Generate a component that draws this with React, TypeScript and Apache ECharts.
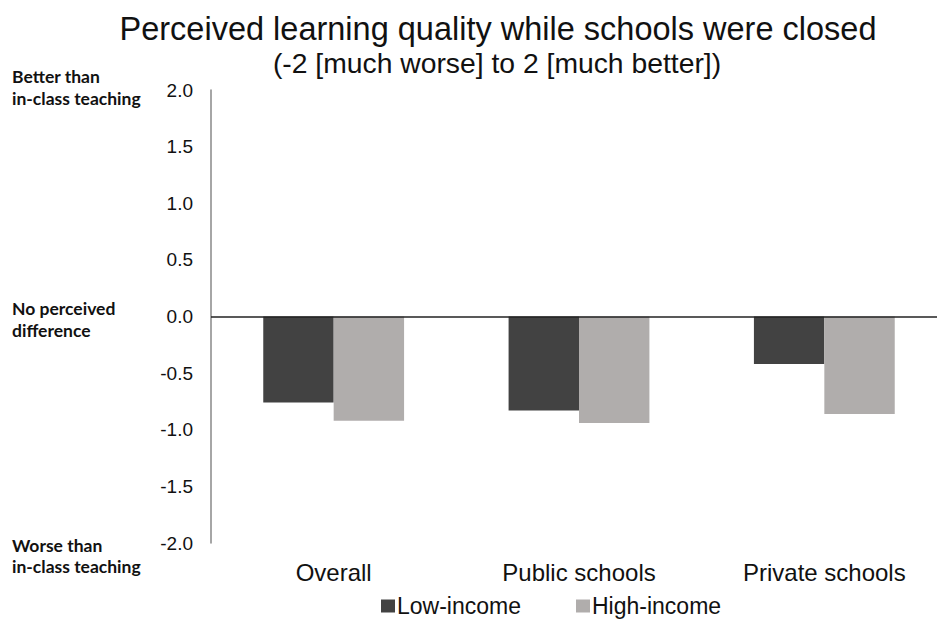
import React, { useEffect, useRef } from "react";
import * as echarts from "echarts";

// Mean perceived learning quality while schools were closed (-2 .. 2)
const categories = ["Overall", "Public schools", "Private schools"];
const seriesNames = ["Low-income", "High-income"];
const lowIncome = [-0.76, -0.83, -0.42];
const highIncome = [-0.92, -0.94, -0.86];
const yTicks = [-2, -1.5, -1, -0.5, 0, 0.5, 1, 1.5, 2];

const LOW_COLOR = "#424242";
const HIGH_COLOR = "#b0adac";
const ARIAL = "'Liberation Sans', Arial, sans-serif";
const SIDE = "Lato, 'Open Sans', sans-serif";

// Chart canvas is slightly wider than the page so the last category is cut at the edge.
const CHART_W = 947;
const CHART_H = 622;

export default function App() {
  const ref = useRef<HTMLDivElement>(null);

  useEffect(() => {
    if (!ref.current) return;
    const chart = echarts.init(ref.current, null, { renderer: "svg" });

    const sideLine = (text: string, y: number) => ({
      type: "text",
      x: 12,
      y,
      style: {
        text,
        font: `bold 17.5px ${SIDE}`,
        fill: "#111",
        textVerticalAlign: "middle",
      },
    });

    chart.setOption({
      animation: false,
      backgroundColor: "#fff",
      grid: { left: 211, right: 0, top: 90, bottom: 79, containLabel: false },
      legend: {
        data: seriesNames,
        left: 381,
        top: 593,
        padding: 0,
        icon: "rect",
        itemWidth: 14,
        itemHeight: 13,
        itemGap: 55,
        textStyle: {
          fontFamily: ARIAL,
          fontSize: 23,
          lineHeight: 26,
          color: "#111",
          padding: [0, 0, 0, -3],
        },
      },
      graphic: [
        {
          type: "text",
          x: 498,
          y: 29,
          style: {
            text: "Perceived learning quality while schools were closed",
            font: `32.5px ${ARIAL}`,
            fill: "#111",
            textAlign: "center",
            textVerticalAlign: "middle",
          },
        },
        {
          type: "text",
          x: 497,
          y: 63,
          style: {
            text: "(-2 [much worse] to 2 [much better])",
            font: `28.3px ${ARIAL}`,
            fill: "#111",
            textAlign: "center",
            textVerticalAlign: "middle",
          },
        },
        sideLine("Better than", 76),
        sideLine("in-class teaching", 98),
        sideLine("No perceived", 308),
        sideLine("difference", 330),
        sideLine("Worse than", 545),
        sideLine("in-class teaching", 566),
      ],
      xAxis: {
        type: "category",
        data: categories,
        position: "bottom",
        axisLine: { show: false, onZero: false },
        axisTick: { show: false },
        axisLabel: {
          fontFamily: ARIAL,
          fontSize: 24,
          color: "#111",
          margin: 17,
        },
      },
      yAxis: {
        type: "value",
        min: -2,
        max: 2,
        interval: 0.5,
        axisLine: { show: true, lineStyle: { color: "#888", width: 1.5 } },
        axisTick: { show: false },
        splitLine: { show: false },
        axisLabel: {
          fontFamily: ARIAL,
          fontSize: 19,
          color: "#111",
          margin: 18,
          formatter: (v: number) => (yTicks.includes(v) ? v.toFixed(1) : ""),
        },
      },
      series: [
        {
          name: seriesNames[0],
          type: "bar",
          data: lowIncome,
          barGap: "0%",
          barCategoryGap: "42.6%",
          itemStyle: { color: LOW_COLOR },
          markLine: {
            silent: true,
            symbol: "none",
            label: { show: false },
            lineStyle: { color: "#222", width: 1.5, type: "solid" },
            data: [{ yAxis: 0 }],
          },
        },
        {
          name: seriesNames[1],
          type: "bar",
          data: highIncome,
          barGap: "0%",
          barCategoryGap: "42.6%",
          itemStyle: { color: HIGH_COLOR },
        },
      ],
    });

    return () => chart.dispose();
  }, []);

  return (
    <div
      style={{
        position: "fixed",
        left: 0,
        top: 0,
        width: 937,
        height: CHART_H,
        overflow: "hidden",
        background: "#fff",
      }}
    >
      <div ref={ref} style={{ width: CHART_W, height: CHART_H }} />
    </div>
  );
}
